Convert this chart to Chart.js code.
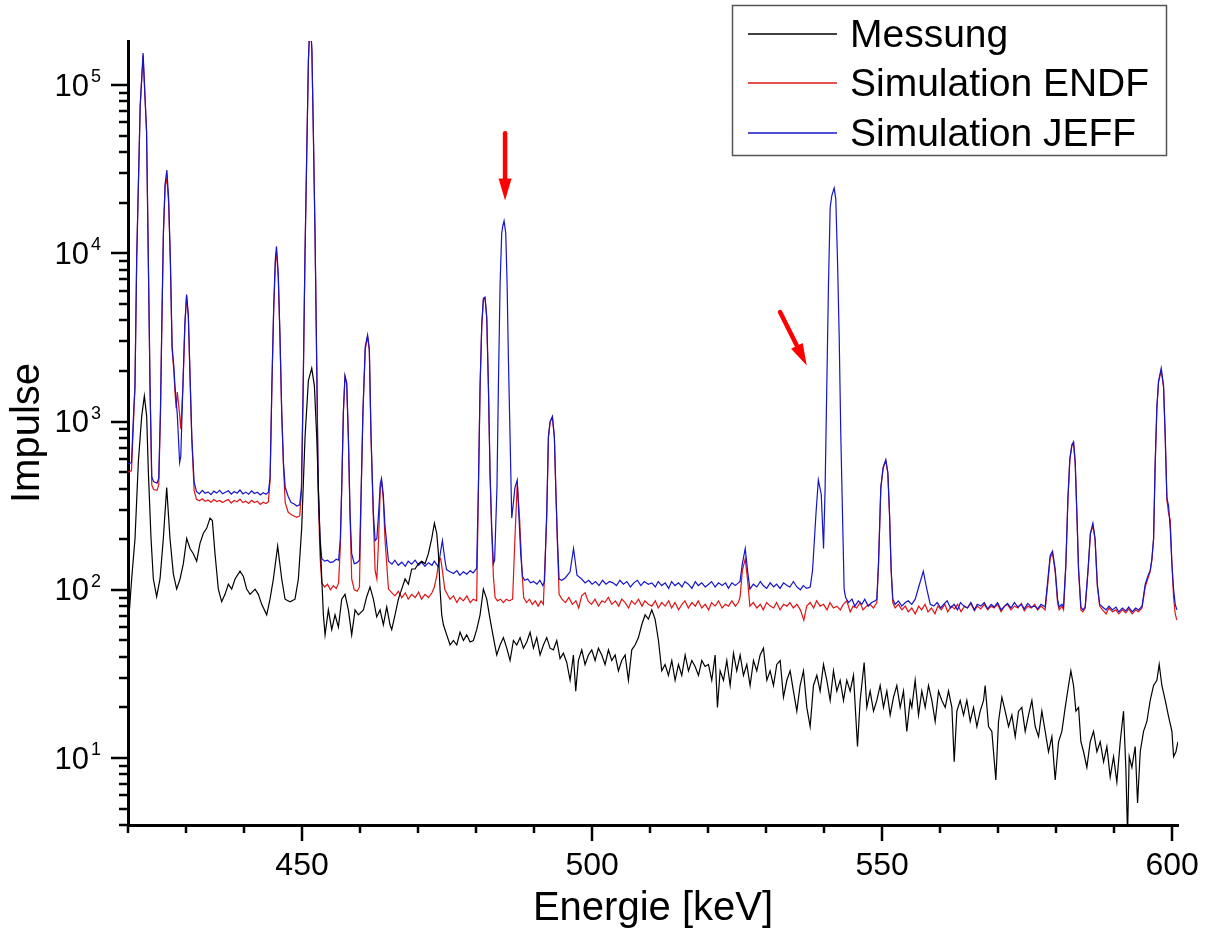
<!DOCTYPE html>
<html>
<head>
<meta charset="utf-8">
<script src="https://cdn.jsdelivr.net/npm/chart.js@4.4.1/dist/chart.umd.min.js"></script>
<style>
  body { margin: 0; background: #fff; }
  canvas { display: block; }
</style>
</head>
<body>
<canvas id="spectrum" width="1206" height="937"></canvas>
<script>
// [energy keV, counts]
const messung = [
  [420.06,88],[420.3,80],[420.63,116],[421.21,202],[421.78,574],[422.36,1074],[422.82,1419],[423.22,1074],[423.51,500],
  [423.97,202],[424.37,116],[424.94,91],[425.52,116],[426.09,202],[426.67,405],[427.24,202],[427.82,124],[428.39,101],
  [428.97,116],[429.54,143],[430.12,202],[430.69,176],[431.26,164],[431.84,148],[432.41,189],[432.99,217],[433.56,232],
  [434.14,267],[434.54,258],[435.0,164],[435.57,101],[436.15,85],[436.72,94],[437.3,108],[437.87,101],[438.45,116],
  [439.31,129],[439.89,120],[440.46,101],[441.04,94],[441.9,101],[442.47,94],[443.05,82],[443.91,71],[444.48,88],
  [445.06,116],[445.8,182],[446.5,116],[447.07,88],[447.93,85],[448.79,88],[449.37,116],[449.94,232],[450.52,813],
  [451.09,1747],[451.67,2080],[452.13,1630],[452.53,813],[453.1,202],[453.68,71],[453.97,54],[454.54,76],[455.12,58],
  [455.69,71],[456.27,60],[456.84,88],[457.41,94],[457.99,76],[458.56,54],[459.14,76],[459.71,71],[460.58,76],
  [461.15,91],[461.72,104],[462.3,88],[462.87,69],[463.45,76],[464.02,62],[464.6,79],[465.17,62],[465.46,58],
  [466.03,71],[466.61,88],[467.18,101],[467.76,116],[468.33,108],[468.91,133],[469.48,133],[470.06,143],[470.63,148],
  [471.21,143],[471.78,164],[472.36,202],[472.82,249],[473.22,217],[473.51,164],[473.79,101],[474.08,71],[474.37,62],
  [474.94,54],[475.52,47],[476.09,50],[476.67,47],[477.24,56],[477.82,50],[478.39,54],[478.97,49],[479.54,50],
  [480.11,58],[480.69,71],[481.26,101],[481.84,88],[482.41,67],[482.99,52],[483.56,41],[484.14,47],[484.71,52],
  [485.29,45],[485.86,38],[486.44,50],[487.01,47],[487.59,52],[488.16,45],[488.74,49],[489.31,56],[489.89,45],
  [490.46,52],[491.03,41],[491.61,47],[492.18,52],[492.76,45],[493.33,44],[493.91,50],[494.48,39],[495.06,42],
  [495.63,37],[496.21,29],[496.78,41],[497.18,25],[497.64,38],[498.22,44],[498.79,36],[499.37,41],[499.94,44],
  [500.52,38],[501.09,45],[501.67,41],[502.24,36],[502.82,44],[503.39,38],[503.97,41],[504.54,33],[505.11,38],
  [505.69,41],[506.26,29],[506.84,44],[507.41,47],[507.99,52],[508.56,62],[509.14,71],[509.71,67],[510.29,76],
  [510.86,67],[511.44,50],[512.01,33],[512.59,36],[513.16,31],[513.74,38],[514.31,29],[514.89,36],[515.46,31],
  [516.04,41],[516.61,33],[517.19,38],[517.76,35],[518.34,31],[518.91,38],[519.48,35],[520.06,36],[520.63,29],
  [521.21,41],[521.61,20],[522.07,33],[522.65,29],[523.22,38],[523.8,27],[524.37,42],[524.94,33],[525.52,41],
  [526.09,31],[526.67,36],[527.24,27],[527.82,38],[528.39,33],[528.97,41],[529.54,45],[530.12,29],[530.69,33],
  [531.27,27],[531.84,36],[532.42,38],[532.99,23],[533.57,29],[534.14,33],[534.71,25],[535.29,19],[535.86,27],
  [536.44,33],[537.01,20],[537.59,15.4],[538.16,27],[538.74,31],[539.31,25],[539.89,36],[540.46,29],[541.04,22],
  [541.61,33],[542.19,25],[542.76,29],[543.34,22],[543.91,29],[544.49,25],[545.06,31],[545.75,11.7],[546.21,22],
  [546.9,37],[547.36,20],[547.93,25],[548.51,19],[549.08,22],[549.66,27],[550.23,20],[550.81,25],[551.38,18],
  [551.96,23],[552.53,27],[553.11,20],[553.68,25],[554.25,14.4],[554.83,22],[555.12,20],[555.69,29],[556.27,18],
  [556.84,25],[557.42,20],[557.99,27],[558.57,22],[559.14,16.5],[559.72,25],[560.29,22],[560.87,20],[561.44,25],
  [562.02,20],[562.42,9.5],[562.88,19],[563.45,22],[564.03,18],[564.6,22],[565.18,16.5],[565.75,20],[566.33,15.4],
  [566.9,19],[567.48,22],[567.76,27],[568.34,15.4],[568.91,14.4],[569.6,7.4],[570.06,16.5],[570.64,23],[571.21,19],
  [571.79,15.4],[572.36,18],[572.94,13.4],[573.51,19],[574.08,20],[574.66,14.4],[575.23,18],[575.81,22],[576.38,15.4],
  [576.96,13.4],[577.53,19],[578.11,14.4],[578.68,10.9],[579.26,13.4],[579.83,7.4],[580.41,12.5],[580.98,14.4],
  [581.56,20],[582.13,27],[582.53,33],[582.99,27],[583.4,19],[583.86,20],[584.26,12.5],[584.72,10.9],[585.29,8.8],
  [585.87,12.5],[586.44,14.4],[587.02,10.9],[587.59,12.5],[588.17,9.5],[588.74,11.7],[589.31,7.7],[589.89,10.2],
  [590.46,7.2],[591.04,12.5],[591.61,19],[592.02,8.5],[592.3,3.5],[592.59,10.2],[593.05,8.8],[593.62,11.7],[594.03,5.4],
  [594.49,10.9],[595.06,14.4],[595.64,16.5],[596.21,22],[596.79,27],[597.36,29],[597.76,36],[598.22,27],[598.8,22],
  [599.37,17.7],[599.95,14.4],[600.24,10.2],[600.64,10.9],[600.98,12.5]
];

const simEndf = [
  [420.0,500],[420.6,510],[421.0,1100],[421.2,1600],[421.5,9400],[422.1,75000],[422.6,150000],[423.2,53000],[423.5,9400],
  [423.8,1600],[424.1,420],[424.4,395],[425.0,390],[425.3,420],[425.6,1100],[425.8,3240],[426.1,13000],[426.4,25000],
  [426.7,28000],[427.0,20000],[427.3,9000],[427.6,2700],[427.9,2000],[428.1,1500],[428.3,1200],[428.5,1500],[428.9,1100],
  [429.1,900],[429.5,1700],[429.8,3700],[430.1,5600],[430.4,4200],[430.7,1800],[431.0,780],[431.4,390],[431.8,345],
  [432.3,338],[432.8,348],[433.3,336],[433.8,342],[434.3,332],[434.8,344],[435.3,335],[435.8,340],[436.3,330],
  [436.8,338],[437.3,344],[437.8,328],[438.3,340],[438.8,334],[439.3,346],[439.8,330],[440.3,336],[440.8,326],
  [441.3,340],[441.8,330],[442.3,336],[442.8,322],[443.3,332],[443.8,326],[444.2,334],[444.5,450],[444.8,1600],
  [445.1,4400],[445.4,8800],[445.6,10200],[445.9,7200],[446.2,3100],[446.5,1100],[446.8,540],[447.1,330],[447.6,290],
  [448.1,280],[448.6,275],[449.1,270],[449.6,275],[449.9,380],[450.2,1600],[450.5,9300],[450.8,37000],[451.1,140000],
  [451.4,255000],[451.7,160000],[451.95,53000],[452.24,13000],[452.53,2200],[452.8,360],[453.1,160],[453.4,110],
  [453.9,104],[454.4,108],[454.9,100],[455.4,106],[455.9,102],[456.3,110],[456.6,180],[456.84,400],[457.13,1140],
  [457.4,1850],[457.7,1680],[457.99,800],[458.28,270],[458.56,116],[459.0,100],[459.5,98],[459.9,104],[460.2,380],
  [460.5,1140],[460.9,2700],[461.3,3200],[461.6,2650],[461.9,790],[462.3,260],[462.6,130],[462.9,116],[463.2,200],
  [463.5,410],[463.7,440],[464.0,350],[464.3,200],[464.9,101],[465.5,96],[466.0,92],[466.6,98],[467.2,90],[467.8,96],
  [468.3,88],[468.9,94],[469.5,90],[470.1,97],[470.6,88],[471.2,94],[471.8,90],[472.4,96],[472.8,104],[473.2,120],
  [473.6,150],[473.9,153],[474.2,130],[474.6,101],[474.9,96],[475.5,88],[476.1,92],[476.7,84],[477.2,90],[477.8,86],
  [478.4,92],[479.0,84],[479.5,88],[480.1,86],[480.4,380],[480.69,1600],[480.98,3700],[481.26,5300],[481.55,5400],
  [481.84,4100],[482.13,1600],[482.41,480],[482.7,220],[482.99,120],[483.28,90],[483.7,86],[484.2,88],[484.7,84],
  [485.2,88],[485.7,86],[486.3,88],[486.7,202],[487.1,430],[487.5,267],[487.9,133],[488.2,90],[488.7,84],[489.2,88],
  [489.7,82],[490.2,86],[490.7,80],[491.2,86],[491.6,82],[492.18,270],[492.47,800],[492.76,990],[493.16,1060],
  [493.5,800],[493.74,400],[494.02,190],[494.31,94],[494.8,88],[495.4,84],[496.0,90],[496.6,82],[497.2,86],[497.7,78],
  [498.2,92],[498.8,96],[499.3,86],[499.9,82],[500.5,88],[501.1,80],[501.7,86],[502.2,84],[502.8,90],[503.4,82],
  [504.0,86],[504.6,80],[505.1,88],[505.7,84],[506.3,78],[506.8,86],[507.4,82],[508.0,88],[508.6,80],[509.1,86],
  [509.7,82],[510.3,80],[510.9,86],[511.4,78],[512.0,84],[512.6,80],[513.2,86],[513.7,78],[514.3,84],[514.9,76],
  [515.5,82],[516.0,86],[516.6,78],[517.2,84],[517.8,80],[518.3,86],[518.9,78],[519.5,82],[520.1,76],[520.6,84],
  [521.2,80],[521.8,86],[522.4,78],[523.0,82],[523.5,80],[524.1,86],[524.7,80],[525.2,84],[525.5,90],[525.9,130],
  [526.4,153],[526.8,115],[527.2,80],[527.8,84],[528.4,78],[529.0,82],[529.5,76],[530.1,84],[530.7,80],[531.3,78],
  [531.8,84],[532.4,76],[533.0,82],[533.6,80],[534.1,84],[534.7,78],[535.3,82],[535.9,76],[536.5,66],[537.0,80],
  [537.6,84],[538.2,78],[538.7,86],[539.3,80],[539.9,82],[540.5,76],[541.0,84],[541.6,78],[542.2,80],[542.8,76],
  [543.3,82],[543.9,86],[544.5,74],[545.0,80],[545.6,78],[546.2,84],[546.7,76],[547.3,80],[547.9,82],[548.5,78],
  [549.08,84],[549.37,140],[549.77,400],[550.17,530],[550.63,585],[550.98,490],[551.27,280],[551.55,130],[551.84,84],
  [552.24,78],[552.8,82],[553.4,76],[554.0,80],[554.5,74],[555.1,78],[555.7,72],[556.3,80],[556.8,76],[557.4,82],
  [557.9,74],[558.5,78],[559.1,72],[559.6,80],[560.2,76],[560.8,82],[561.3,74],[561.9,80],[562.5,77],[563.0,82],
  [563.6,74],[564.2,80],[564.7,78],[565.3,83],[565.9,75],[566.4,80],[567.0,77],[567.6,82],[568.2,76],[568.8,80],
  [569.3,78],[569.9,82],[570.5,74],[571.1,80],[571.6,82],[572.2,76],[572.8,80],[573.4,78],[574.0,83],[574.5,75],
  [575.1,80],[575.7,78],[576.3,82],[576.8,76],[577.4,80],[578.1,76],[578.57,110],[578.97,155],[579.37,165],
  [579.83,128],[580.24,84],[580.52,76],[581.0,80],[581.27,76],[581.67,140],[582.02,340],[582.36,600],[582.71,720],
  [583.0,740],[583.28,560],[583.57,280],[583.86,130],[584.26,76],[584.6,74],[585.0,78],[585.5,130],[585.9,215],
  [586.33,240],[586.7,200],[587.1,104],[587.5,80],[588.0,76],[588.6,72],[589.1,78],[589.7,74],[590.3,76],[590.8,72],
  [591.4,76],[592.0,73],[592.5,77],[593.1,72],[593.7,76],[594.2,74],[594.8,78],[595.35,104],[595.92,120],[596.2,128],
  [596.5,150],[596.79,200],[597.07,560],[597.36,1200],[597.65,1720],[598.11,2000],[598.51,1600],[598.8,800],
  [599.09,340],[599.37,286],[599.66,260],[599.95,143],[600.24,90],[600.52,72],[600.81,66]
];

const simJeff = [
  [420.0,560],[420.6,570],[421.0,1200],[421.2,1600],[421.5,9400],[422.1,75000],[422.6,155000],[423.2,53000],[423.5,9400],
  [423.8,1600],[424.1,470],[424.4,440],[425.0,430],[425.3,460],[425.6,1200],[425.8,3240],[426.1,13200],[426.4,26000],
  [426.7,31300],[427.0,21300],[427.3,9300],[427.6,2800],[427.9,2130],[428.1,1620],[428.5,1100],[428.9,570],[429.1,620],
  [429.5,1800],[429.8,3800],[430.1,5700],[430.4,4300],[430.7,1860],[431.0,810],[431.4,436],[431.8,385],[432.3,372],
  [432.8,390],[433.3,375],[433.8,382],[434.3,368],[434.8,386],[435.3,376],[435.8,390],[436.3,372],[436.8,380],
  [437.3,388],[437.8,370],[438.3,384],[438.8,375],[439.3,392],[439.8,372],[440.3,381],[440.8,370],[441.3,388],
  [441.8,374],[442.3,380],[442.8,366],[443.3,378],[443.8,370],[444.2,380],[444.5,470],[444.8,1620],[445.1,4600],
  [445.4,9300],[445.6,11000],[445.9,7600],[446.2,3240],[446.5,1140],[446.8,570],[447.1,407],[447.6,360],[448.1,330],
  [448.6,325],[449.1,315],[449.6,320],[449.9,405],[450.2,1620],[450.5,9300],[450.8,37000],[451.1,140000],[451.4,260000],
  [451.7,160000],[451.95,53000],[452.24,13200],[452.53,2300],[452.8,405],[453.1,203],[453.4,153],[453.9,148],[454.4,150],
  [454.9,145],[455.4,147],[455.9,152],[456.3,150],[456.6,200],[456.84,405],[457.13,1140],[457.4,1880],[457.7,1700],
  [457.99,810],[458.28,286],[458.56,164],[459.0,143],[459.5,145],[459.9,150],[460.2,400],[460.5,1140],[460.9,2800],
  [461.3,3270],[461.6,2700],[461.9,810],[462.3,286],[462.6,196],[462.9,202],[463.2,286],[463.5,430],[463.7,460],
  [464.0,370],[464.3,240],[464.9,148],[465.5,142],[466.0,150],[466.6,140],[467.2,146],[467.8,138],[468.3,148],
  [468.9,142],[469.5,150],[470.1,140],[470.6,146],[471.2,138],[471.8,145],[472.4,140],[472.8,148],[473.5,137],
  [473.9,170],[474.2,196],[474.6,153],[474.9,132],[475.5,128],[476.1,125],[476.7,130],[477.2,122],[477.8,128],
  [478.4,124],[479.0,130],[479.5,126],[480.1,134],[480.4,405],[480.69,1630],[480.98,3760],[481.26,5400],[481.55,5500],
  [481.84,4200],[482.13,1630],[482.41,500],[482.7,232],[482.99,143],[483.2,150],[483.6,405],[483.85,1630],[484.14,6550],
  [484.42,13150],[484.6,14500],[484.83,15600],[485.12,13150],[485.35,6550],[485.58,2310],[485.86,813],[486.15,267],
  [486.44,330],[486.7,405],[487.1,450],[487.4,267],[487.7,163],[488.0,120],[488.4,114],[488.9,116],[489.4,110],
  [489.9,112],[490.5,108],[491.0,114],[491.5,106],[491.8,112],[492.18,286],[492.47,813],[492.76,1000],[493.16,1074],
  [493.5,813],[493.74,405],[494.02,202],[494.31,116],[494.8,114],[495.4,118],[496.2,128],[496.8,176],[497.4,122],
  [498.2,116],[498.8,110],[499.4,114],[500.0,108],[500.6,112],[501.2,106],[501.8,114],[502.4,108],[503.0,112],
  [503.6,110],[504.2,106],[504.8,114],[505.4,108],[506.0,112],[506.6,104],[507.2,110],[507.8,114],[508.4,106],
  [509.0,112],[509.7,108],[510.3,110],[510.9,104],[511.4,112],[512.0,106],[512.6,110],[513.2,102],[513.7,112],
  [514.3,106],[514.9,110],[515.5,104],[516.0,112],[516.6,108],[517.2,102],[517.8,112],[518.3,106],[518.9,110],
  [519.5,104],[520.1,108],[520.6,112],[521.2,104],[521.8,110],[522.4,106],[523.0,110],[523.5,102],[524.1,110],
  [524.7,106],[525.2,110],[525.5,112],[525.9,143],[526.4,176],[526.8,130],[527.2,101],[527.8,108],[528.4,104],
  [529.0,112],[529.5,106],[530.1,102],[530.7,110],[531.3,104],[531.8,108],[532.4,102],[533.0,110],[533.6,106],
  [534.1,104],[534.7,112],[535.3,104],[535.9,100],[536.4,106],[537.0,102],[537.6,104],[538.0,130],[538.6,286],
  [539.0,450],[539.5,370],[539.9,176],[540.17,405],[540.46,1630],[540.75,6550],[541.04,18700],[541.32,22000],
  [541.73,24500],[542.01,21000],[542.3,9300],[542.59,3270],[542.88,813],[543.16,286],[543.45,101],[543.7,90],
  [544.2,84],[544.8,88],[545.3,80],[545.9,86],[546.5,82],[547.0,88],[547.6,80],[548.2,84],[548.8,86],[549.08,88],
  [549.37,143],[549.77,405],[550.17,535],[550.63,594],[550.98,500],[551.27,286],[551.55,133],[551.84,88],[552.24,82],
  [552.8,86],[553.4,80],[554.0,84],[554.5,86],[555.1,82],[555.7,88],[556.3,104],[557.1,129],[557.7,101],[558.3,82],
  [558.9,80],[559.5,84],[560.1,78],[560.6,82],[561.2,86],[561.8,78],[562.4,82],[563.0,76],[563.5,84],[564.1,80],
  [564.7,78],[565.3,84],[565.9,76],[566.4,82],[567.0,80],[567.6,84],[568.2,77],[568.8,82],[569.3,79],[569.9,84],
  [570.5,76],[571.1,80],[571.6,83],[572.2,78],[572.8,84],[573.4,79],[574.0,82],[574.5,77],[575.1,83],[575.7,79],
  [576.3,80],[576.8,77],[577.4,82],[578.1,79],[578.57,116],[578.97,160],[579.37,170],[579.83,133],[580.24,88],
  [580.52,79],[581.0,82],[581.27,79],[581.67,143],[582.02,347],[582.36,600],[582.71,730],[583.0,760],[583.28,580],
  [583.57,286],[583.86,133],[584.26,79],[584.6,76],[585.0,79],[585.5,133],[585.9,217],[586.33,249],[586.7,202],
  [587.1,108],[587.5,82],[588.0,79],[588.6,76],[589.1,80],[589.7,76],[590.3,79],[590.8,74],[591.4,78],[592.0,75],
  [592.5,79],[593.1,74],[593.7,78],[594.2,76],[594.8,80],[595.35,108],[595.92,124],[596.2,130],[596.5,153],
  [596.79,202],[597.07,575],[597.36,1230],[597.65,1750],[598.11,2080],[598.51,1630],[598.8,813],[599.09,352],
  [599.37,317],[599.66,232],[599.95,143],[600.24,101],[600.52,82],[600.81,76]
];

const seriesLabels = ['Messung', 'Simulation ENDF', 'Simulation JEFF'];
const seriesColors = ['#000000', '#e01414', '#1414c8'];
const xTickValues = [420, 430, 440, 450, 460, 470, 480, 490, 500, 510, 520, 530, 540, 550, 560, 570, 580, 590, 600];
const yDecades = [1, 2, 3, 4, 5];
// red arrows, tail -> tip in [keV, counts]
const arrows = [
  { from: [485.0, 51800], to: [485.0, 20600] },
  { from: [532.4, 4480], to: [537.0, 2155] },
];

const FONT = "'Liberation Sans', Arial, sans-serif";
const toPoints = pairs => pairs.map(p => ({ x: p[0], y: p[1] }));

let yTickValues = [];
for (let e = 0; e <= 5; e++) {
  for (let m = 1; m <= 9; m++) {
    const v = m * Math.pow(10, e);
    if (v >= 4 && v <= 183000) yTickValues.push(v);
  }
}

const decor = {
  id: 'decor',
  afterDraw(chart) {
    const ctx = chart.ctx;
    const xs = chart.scales.x;
    const ys = chart.scales.y;
    const area = chart.chartArea;
    ctx.save();

    // tick marks
    ctx.strokeStyle = '#000';
    ctx.lineWidth = 2.5;
    xTickValues.forEach(v => {
      const px = Math.round(xs.getPixelForValue(v));
      const len = v % 50 === 0 ? 16 : 8;
      ctx.beginPath();
      ctx.moveTo(px, area.bottom);
      ctx.lineTo(px, area.bottom + len);
      ctx.stroke();
    });
    yTickValues.forEach(v => {
      const py = Math.round(ys.getPixelForValue(v));
      const major = Math.abs(Math.log10(v) - Math.round(Math.log10(v))) < 1e-9;
      ctx.beginPath();
      ctx.moveTo(area.left, py);
      ctx.lineTo(area.left - (major ? 17 : 9), py);
      ctx.stroke();
    });

    // y labels 10^n
    ctx.fillStyle = '#000';
    yDecades.forEach(n => {
      const py = ys.getPixelForValue(Math.pow(10, n));
      ctx.font = '31px ' + FONT;
      ctx.textAlign = 'right';
      ctx.textBaseline = 'middle';
      ctx.fillText('10', 89, py + 2);
      ctx.font = '18px ' + FONT;
      ctx.textAlign = 'left';
      ctx.fillText(String(n), 91, py - 8);
    });

    // arrows
    ctx.strokeStyle = '#ff0000';
    ctx.fillStyle = '#ff0000';
    arrows.forEach(a => {
      const x0 = xs.getPixelForValue(a.from[0]), y0 = ys.getPixelForValue(a.from[1]);
      const x1 = xs.getPixelForValue(a.to[0]), y1 = ys.getPixelForValue(a.to[1]);
      const ang = Math.atan2(y1 - y0, x1 - x0);
      const headLen = 22, headW = 6.5;
      const bx = x1 - headLen * Math.cos(ang), by = y1 - headLen * Math.sin(ang);
      ctx.lineWidth = 4.5;
      ctx.lineCap = 'round';
      ctx.beginPath();
      ctx.moveTo(x0, y0);
      ctx.lineTo(bx, by);
      ctx.stroke();
      ctx.beginPath();
      ctx.moveTo(x1, y1);
      ctx.lineTo(bx + headW * Math.sin(ang), by - headW * Math.cos(ang));
      ctx.lineTo(bx - headW * Math.sin(ang), by + headW * Math.cos(ang));
      ctx.closePath();
      ctx.fill();
    });

    // legend box
    ctx.lineCap = 'butt';
    ctx.fillStyle = '#fff';
    ctx.fillRect(732, 5, 435, 150);
    ctx.strokeStyle = '#555';
    ctx.lineWidth = 1.5;
    ctx.strokeRect(732.5, 5.5, 434, 150);
    const rows = [34, 83, 133];
    seriesLabels.forEach((label, i) => {
      ctx.strokeStyle = seriesColors[i];
      ctx.lineWidth = 1.5;
      ctx.beginPath();
      ctx.moveTo(748, rows[i]);
      ctx.lineTo(837, rows[i]);
      ctx.stroke();
      ctx.fillStyle = '#000';
      ctx.font = '39px ' + FONT;
      ctx.textAlign = 'left';
      ctx.textBaseline = 'middle';
      ctx.fillText(label, 850, rows[i] + 2);
    });

    ctx.restore();
  }
};

const lineStyle = { borderWidth: 1.2, pointRadius: 0, tension: 0, fill: false };

new Chart(document.getElementById('spectrum'), {
  type: 'line',
  data: {
    datasets: [
      Object.assign({ label: seriesLabels[0], data: toPoints(messung), borderColor: seriesColors[0], order: 0 }, lineStyle),
      Object.assign({ label: seriesLabels[1], data: toPoints(simEndf), borderColor: seriesColors[1], order: 2 }, lineStyle),
      Object.assign({ label: seriesLabels[2], data: toPoints(simJeff), borderColor: seriesColors[2], order: 1 }, lineStyle),
    ],
  },
  options: {
    responsive: false,
    animation: false,
    devicePixelRatio: 1,
    layout: { padding: { top: 41, right: 28, bottom: 0, left: 0 } },
    plugins: { legend: { display: false }, tooltip: { enabled: false } },
    scales: {
      x: {
        type: 'linear',
        min: 420,
        max: 601,
        afterBuildTicks: s => { s.ticks = xTickValues.map(v => ({ value: v })); },
        afterFit: s => {
          s.height = 112;
          // the "600" label may overhang the axis end, as in the original
          s.paddingLeft = 0;
          s.paddingRight = 0;
        },
        ticks: {
          autoSkip: false,
          maxRotation: 0,
          padding: 22,
          color: '#000',
          font: { family: FONT, size: 32 },
          callback: v => (v % 50 === 0 ? String(v) : ''),
        },
        grid: { display: true, drawOnChartArea: false, drawTicks: false },
        border: { display: true, color: '#000', width: 3 },
        title: { display: true, text: 'Energie [keV]', color: '#000', font: { family: FONT, size: 40 }, padding: { top: 0, bottom: 4 } },
      },
      y: {
        type: 'logarithmic',
        min: 4,
        max: 183000,
        afterBuildTicks: s => { s.ticks = yTickValues.map(v => ({ value: v })); },
        afterFit: s => { s.width = 128; },
        ticks: { display: false },
        grid: { display: true, drawOnChartArea: false, drawTicks: false },
        border: { display: true, color: '#000', width: 3 },
        title: { display: true, text: 'Impulse', color: '#000', font: { family: FONT, size: 40 }, padding: { top: 4, bottom: 0 } },
      },
    },
  },
  plugins: [decor],
});
</script>
</body>
</html>
